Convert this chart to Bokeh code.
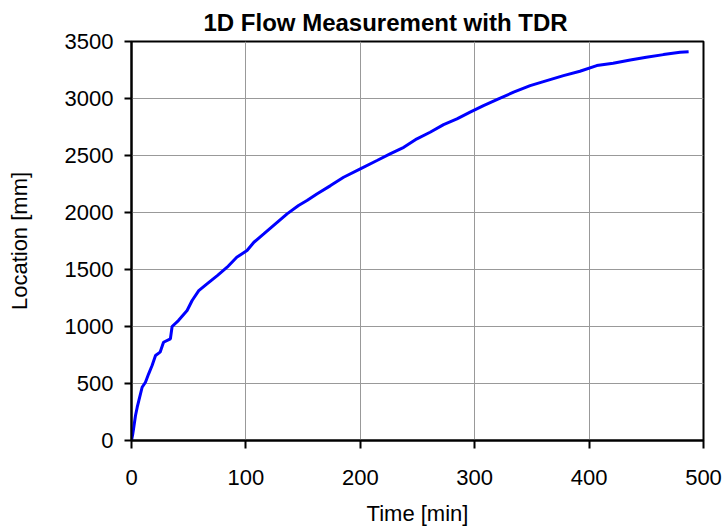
from bokeh.plotting import figure
from bokeh.embed import file_html
from bokeh.resources import INLINE
from bokeh.models import Range1d, FixedTicker, Title

time_min = [0, 1, 2, 3.5, 5, 6.4, 9.3, 12.2, 15, 18, 21, 25, 28, 34, 35.5, 41, 48.6, 53,
            58.8, 66, 75, 83.6, 92, 101, 107, 115.6, 125.8, 136, 146, 153.4, 162, 174,
            185.4, 200, 214.6, 226, 238, 249.5, 261, 272.8, 284.5, 296, 307.7, 320.8,
            334, 348.5, 363, 377.6, 392, 406.7, 421, 436, 450, 465, 479.5, 487]
location_mm = [0, 50, 117, 219, 292, 350, 467, 511, 585, 658, 745, 775, 862, 892, 1000,
               1052, 1140, 1228, 1315, 1374, 1447, 1520, 1608, 1666, 1739, 1812, 1900,
               1988, 2061, 2105, 2163, 2236, 2309, 2383, 2456, 2514, 2572, 2646, 2704,
               2771, 2821, 2880, 2938, 2997, 3055, 3113, 3157, 3201, 3239, 3289, 3309,
               3338, 3361, 3385, 3405, 3410]
x_ticks = [0, 100, 200, 300, 400, 500]
y_ticks = [0, 500, 1000, 1500, 2000, 2500, 3000, 3500]

FONT = "Liberation Sans"

p = figure(width=725, height=528, output_backend="svg", toolbar_location=None,
           x_range=Range1d(0, 500), y_range=Range1d(0, 3500),
           min_border_left=131, min_border_right=22, min_border_top=41, min_border_bottom=88)

p.title = Title(text="1D Flow Measurement with TDR", align="left", offset=72,
                text_font=FONT, text_font_size="24px", text_font_style="bold",
                text_color="black", standoff=12)

p.line(time_min, location_mm, line_color="#0000FF", line_width=3)

p.outline_line_color = "black"
p.outline_line_width = 2
p.background_fill_color = "white"
p.border_fill_color = "white"

for ax in (p.xaxis[0], p.yaxis[0]):
    ax.axis_line_color = "black"
    ax.axis_line_width = 2
    ax.major_tick_line_color = "black"
    ax.major_tick_line_width = 2
    ax.major_tick_in = 0
    ax.minor_tick_line_color = None
    ax.major_label_text_font = FONT
    ax.major_label_text_font_size = "22px"
    ax.major_label_text_color = "black"
    ax.axis_label_text_font = FONT
    ax.axis_label_text_font_size = "22px"
    ax.axis_label_text_font_style = "normal"
    ax.axis_label_text_color = "black"

p.xaxis[0].ticker = FixedTicker(ticks=x_ticks)
p.yaxis[0].ticker = FixedTicker(ticks=y_ticks)
p.xaxis[0].major_tick_out = 8
p.yaxis[0].major_tick_out = 7
p.xaxis[0].major_label_standoff = 21
p.yaxis[0].major_label_standoff = 11
p.xaxis[0].axis_label = "Time [min]"
p.yaxis[0].axis_label = "Location [mm]"
p.xaxis[0].axis_label_standoff = 13
p.yaxis[0].axis_label_standoff = 30

p.xgrid.grid_line_color = "#999999"
p.ygrid.grid_line_color = "#999999"
p.xgrid.grid_line_width = 1
p.ygrid.grid_line_width = 1
p.xgrid.ticker = FixedTicker(ticks=x_ticks)
p.ygrid.ticker = FixedTicker(ticks=y_ticks)

open("out.html", "w").write(file_html(p, INLINE))
